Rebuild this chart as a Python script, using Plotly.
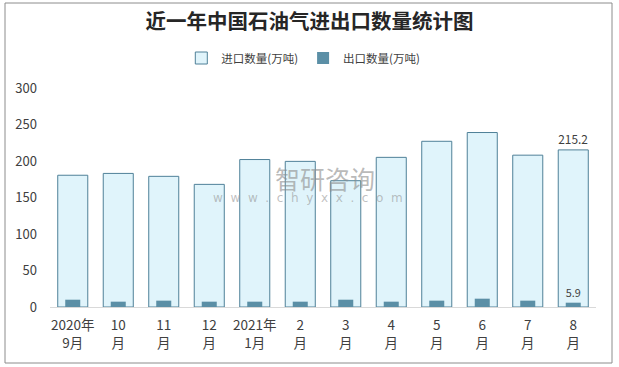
import plotly.graph_objects as go

categories = ["2020年<br>9月", "10<br>月", "11<br>月", "12<br>月", "2021年<br>1月", "2<br>月",
              "3<br>月", "4<br>月", "5<br>月", "6<br>月", "7<br>月", "8<br>月"]
import_vals = [180.5, 183, 179, 168, 202, 199.5, 173, 205, 227, 239, 208, 215.2]
export_vals = [10, 7.3, 8.7, 7.3, 7.3, 7.3, 10, 7.3, 8.7, 11.4, 8.7, 5.9]
y_ticks = [0, 50, 100, 150, 200, 250, 300]

W, H = 619, 367
L, R, T, B = 50, 23, 88, 60
pw, ph = W - L - R, H - T - B

def px(x):
    return (x - L) / pw

def py(y):
    return (H - B - y) / ph

font_fam = "Noto Sans CJK SC, Noto Sans, sans-serif"

imp_text = [""] * (len(import_vals) - 1) + [f"{import_vals[-1]:.1f}"]
exp_text = [""] * (len(export_vals) - 1) + [f"{export_vals[-1]:.1f}"]

fig = go.Figure()
fig.add_trace(go.Bar(
    x=categories, y=import_vals, name="进口数量(万吨)", width=0.66,
    marker=dict(color="#E0F4FB", line=dict(color="#4F8098", width=1)),
    text=imp_text, textposition="outside", cliponaxis=False,
    textfont=dict(size=12, color="#404040", family=font_fam),
))
fig.add_trace(go.Bar(
    x=categories, y=export_vals, name="出口数量(万吨)", width=0.33,
    marker=dict(color="#5B8FA6", line=dict(width=0)),
    text=exp_text, textposition="outside", cliponaxis=False,
    textfont=dict(size=12, color="#404040", family=font_fam),
))

fig.update_layout(
    width=W, height=H,
    margin=dict(l=L, r=R, t=T, b=B, autoexpand=False),
    barmode="overlay",
    paper_bgcolor="white", plot_bgcolor="white",
    font=dict(family=font_fam, color="#404040", size=12),
    title=dict(text="<b>近一年中国石油气进出口数量统计图</b>", x=0.5, xanchor="center",
               y=1 - 22 / H, yanchor="middle",
               font=dict(size=20.5, color="#262626", family=font_fam)),
    legend=dict(orientation="h", xref="container", yref="container",
                x=0.49, xanchor="center", y=1 - 58 / H, yanchor="middle",
                font=dict(size=11.5, color="#404040"), itemwidth=30,
                traceorder="normal"),
    showlegend=True,
    hovermode=False,
    xaxis=dict(showline=True, linecolor="#D9D9D9", linewidth=1, showgrid=False,
               tickfont=dict(size=13.5, color="#404040"), ticks="", fixedrange=True,
               automargin=False, ticklabelstandoff=6),
    yaxis=dict(range=[0, 300], tickvals=y_ticks, showgrid=False, zeroline=False,
               showline=False, tickfont=dict(size=13, color="#404040"), fixedrange=True,
               ticks="", automargin=False, ticklabelstandoff=12),
    shapes=[dict(type="rect", xref="paper", yref="paper",
                 x0=px(5), x1=px(612), y0=py(363), y1=py(3),
                 line=dict(color="#8C8C8C", width=1), fillcolor="rgba(0,0,0,0)",
                 layer="above")],
    annotations=[
        dict(text="智研咨询", xref="paper", yref="paper", x=px(325), y=py(178),
             showarrow=False, font=dict(size=25, color="rgba(140,140,140,0.6)", family=font_fam)),
        dict(text="w  w  w  .  c  h  y  x  x  .  c  o  m", xref="paper", yref="paper", x=px(308), y=py(198),
             showarrow=False, font=dict(size=12, color="rgba(150,150,150,0.6)", family="DejaVu Sans")),
    ],
)

fig.write_html("out.html", config={"displayModeBar": False, "staticPlot": True},
               post_script="document.body.style.margin='0';document.body.style.overflow='hidden';")
